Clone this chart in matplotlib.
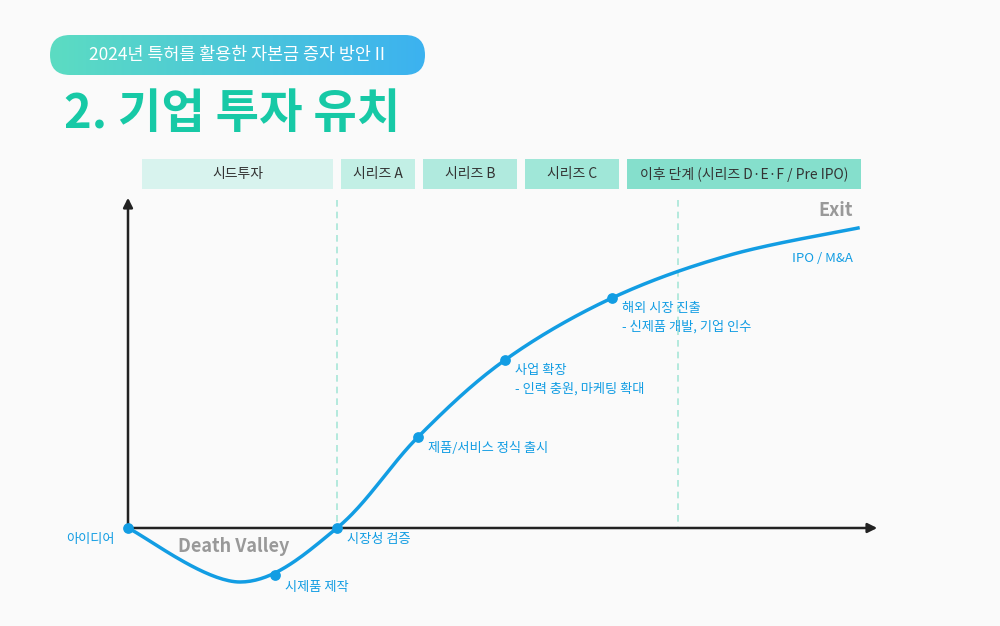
import numpy as np
import matplotlib.pyplot as plt
from matplotlib import font_manager
from matplotlib.patches import FancyBboxPatch, Rectangle
from matplotlib.colors import LinearSegmentedColormap

names = {f.name for f in font_manager.fontManager.ttflist}
cjk = [n for n in ["Noto Sans CJK KR", "Noto Sans CJK JP", "Noto Sans CJK SC", "Noto Sans CJK TC"] if n in names]
plt.rcParams["font.family"] = cjk + ["DejaVu Sans"]

# stage bands (left, right in px)
stages = ["시드투자", "시리즈 A", "시리즈 B", "시리즈 C", "이후 단계 (시리즈 D·E·F / Pre IPO)"]
stage_left = [142, 341, 423, 525, 627]
stage_right = [333, 415, 517, 619, 861]
stage_colors = ["#d8f3ee", "#c2efe5", "#b0eade", "#a0e7d8", "#85dfcc"]

# growth curve (px)
curve_x = [128, 240, 337, 418, 505, 612, 730, 858]
curve_y = [528, 582, 528, 437, 360, 298, 255, 228]

milestone_x = [128, 275, 337, 418, 505, 612]
milestone_y = [528, 575, 528, 437, 360, 298]
milestone_labels = ["아이디어", "시제품 제작", "시장성 검증", "제품/서비스 정식 출시",
                    "사업 확장\n- 인력 충원, 마케팅 확대", "해외 시장 진출\n- 신제품 개발, 기업 인수"]
label_dx = [-62, 10, 10, 10, 10, 10]
label_dy = [12, 12, 12, 12, 20, 20]


def catmull(xs, ys, n=40):
    px, py = [], []
    pts = list(zip(xs, ys))
    pts = [pts[0]] + pts + [pts[-1]]
    for i in range(1, len(pts) - 2):
        p0, p1, p2, p3 = [np.array(p, float) for p in pts[i - 1:i + 3]]
        for t in np.linspace(0, 1, n, endpoint=False):
            q = 0.5 * (2 * p1 + (-p0 + p2) * t + (2 * p0 - 5 * p1 + 4 * p2 - p3) * t ** 2
                       + (-p0 + 3 * p1 - 3 * p2 + p3) * t ** 3)
            px.append(q[0]); py.append(q[1])
    px.append(xs[-1]); py.append(ys[-1])
    return px, py


fig = plt.figure(figsize=(10, 6.26), dpi=100, facecolor="#fafafa")
ax = fig.add_axes([0, 0, 1, 1])
ax.set_xlim(0, 1000)
ax.set_ylim(626, 0)
ax.axis("off")

# header pill with gradient
grad = np.linspace(0, 1, 256).reshape(1, -1)
cmap = LinearSegmentedColormap.from_list("g", ["#5cdcc2", "#3cb2f0"])
im = ax.imshow(grad, cmap=cmap, extent=[50, 425, 75, 35], aspect="auto", zorder=1)
pill = FancyBboxPatch((50, 35), 375, 40, boxstyle="round,pad=0,rounding_size=20",
                      transform=ax.transData, facecolor="none", edgecolor="none")
ax.add_patch(pill)
im.set_clip_path(pill)
ax.text(237, 55, "2024년 특허를 활용한 자본금 증자 방안 II", color="white", fontsize=12.5,
        ha="center", va="center", zorder=2)
ax.text(64, 114, "2. 기업 투자 유치", color="#17c9a6", fontsize=34, fontweight="bold",
        ha="left", va="center")

for name, l, r, c in zip(stages, stage_left, stage_right, stage_colors):
    ax.add_patch(Rectangle((l, 159), r - l, 30, facecolor=c, edgecolor="none"))
    ax.text((l + r) / 2, 174, name, fontsize=10, color="#333333", ha="center", va="center")

for x in [337, 678]:
    ax.plot([x, x], [200, 528], color="#a8e6d8", lw=1.2, ls=(0, (4, 3)))

# axes arrows
ax.annotate("", xy=(128, 195), xytext=(128, 530),
            arrowprops=dict(arrowstyle="-|>", color="#222222", lw=1.8, mutation_scale=14))
ax.annotate("", xy=(880, 528), xytext=(126, 528),
            arrowprops=dict(arrowstyle="-|>", color="#222222", lw=1.8, mutation_scale=14))

cx, cy = catmull(curve_x, curve_y)
ax.plot(cx, cy, color="#129de3", lw=2.5, zorder=3)
ax.scatter(milestone_x, milestone_y, s=45, color="#129de3", zorder=4)

for x, y, t, dx, dy in zip(milestone_x, milestone_y, milestone_labels, label_dx, label_dy):
    ax.text(x + dx, y + dy, t, fontsize=9.5, color="#129de3", ha="left", va="center",
            linespacing=1.5)

ax.text(234, 546, "Death Valley", fontsize=13, color="#999999", fontweight="bold",
        ha="center", va="center")
ax.text(853, 211, "Exit", fontsize=13, color="#999999", fontweight="bold", ha="right", va="center")
ax.text(853, 258, "IPO / M&A", fontsize=9.5, color="#129de3", ha="right", va="center")

fig.savefig("out.png", dpi=100, facecolor=fig.get_facecolor())
